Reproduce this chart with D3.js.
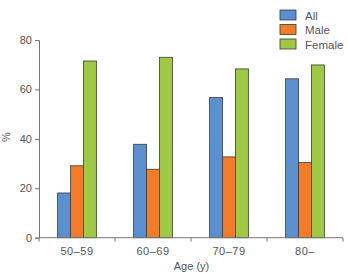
<!DOCTYPE html>
<html>
<head>
<meta charset="utf-8">
<script src="https://cdn.jsdelivr.net/npm/d3@7"></script>
<style>
body { margin: 0; background: #fff; }
text { font-family: "Liberation Sans", Arial, sans-serif; fill: #555; }
</style>
</head>
<body>
<script>
var ages = ["50–59", "60–69", "70–79", "80–"];
var seriesNames = ["All", "Male", "Female"];
var allVals = [18.1, 37.8, 56.7, 64.3];
var maleVals = [29.1, 27.7, 32.7, 30.4];
var femaleVals = [71.5, 73.0, 68.3, 69.9];
var yTicks = [0, 20, 40, 60, 80];
var colors = ["#5b90d0", "#f57c26", "#9dca42"];

var seriesVals = [allVals, maleVals, femaleVals];

var margin = { top: 40, right: 5, bottom: 35, left: 39 },
    width = 348 - margin.left - margin.right,
    height = 273 - margin.top - margin.bottom;

var svg = d3.select("body").append("svg")
    .attr("width", 348)
    .attr("height", 273),
    g = svg.append("g")
        .attr("transform", "translate(" + margin.left + "," + margin.top + ")");

var x = d3.scaleBand().domain(ages).range([0, 304]).paddingInner(0.49).paddingOuter(0.245);
var x1 = d3.scaleBand().domain(seriesNames).range([0, x.bandwidth()]);
var y = d3.scaleLinear().domain([0, 80]).range([197.7, 0]);

// bars
ages.forEach(function (a, i) {
    var grp = g.append("g").attr("transform", "translate(" + x(a) + ",0)");
    seriesNames.forEach(function (s, j) {
        grp.append("rect")
            .attr("x", x1(s))
            .attr("width", x1.bandwidth())
            .attr("y", y(seriesVals[j][i]))
            .attr("height", y(0) - y(seriesVals[j][i]))
            .style("fill", colors[j])
            .attr("stroke", "#3a3a3a")
            .attr("stroke-width", 0.8);
    });
});

// y axis
var yAxis = g.append("g")
    .call(d3.axisLeft(y).tickValues(yTicks).tickSize(4).tickPadding(3));
yAxis.select(".domain").attr("stroke", "#777");
yAxis.selectAll(".tick line").attr("stroke", "#777");
yAxis.selectAll("text").style("font-size", "11px").style("fill", "#555");

// x axis with ticks at band edges
var xg = g.append("g").attr("transform", "translate(0," + y(0) + ")");
xg.append("line").attr("x1", 0).attr("x2", 304).attr("stroke", "#777");
var edges = [0].concat(ages.map(function (a) { return x(a) + x.bandwidth() + x.step() * x.paddingInner() / 2; }));
edges[edges.length - 1] = 304;
xg.selectAll(".edge").data(edges).enter().append("line")
    .attr("x1", function (d) { return d; }).attr("x2", function (d) { return d; })
    .attr("y1", 0).attr("y2", 4).attr("stroke", "#777");
xg.selectAll(".lbl").data(ages).enter().append("text")
    .attr("x", function (d) { return x(d) + x.bandwidth() / 2; })
    .attr("y", 17)
    .attr("text-anchor", "middle")
    .style("font-size", "11px")
    .style("letter-spacing", "0.5px")
    .text(function (d) { return d; });

// axis titles
svg.append("text")
    .attr("x", 191.5).attr("y", 270)
    .attr("text-anchor", "middle")
    .style("font-size", "11px")
    .text("Age (y)");
svg.append("text")
    .attr("transform", "translate(10,137) rotate(-90)")
    .attr("text-anchor", "middle")
    .style("font-size", "11px")
    .text("%");

// legend
var leg = svg.append("g").attr("transform", "translate(280,10)");
seriesNames.forEach(function (s, j) {
    leg.append("rect")
        .attr("x", 0).attr("y", j * 14.5)
        .attr("width", 16).attr("height", 10)
        .style("fill", colors[j])
        .attr("stroke", "#3a3a3a").attr("stroke-width", 0.8);
    leg.append("text")
        .attr("x", 25).attr("y", j * 14.5 + 9.5)
        .style("font-size", "11.5px")
        .text(s);
});
</script>
</body>
</html>
